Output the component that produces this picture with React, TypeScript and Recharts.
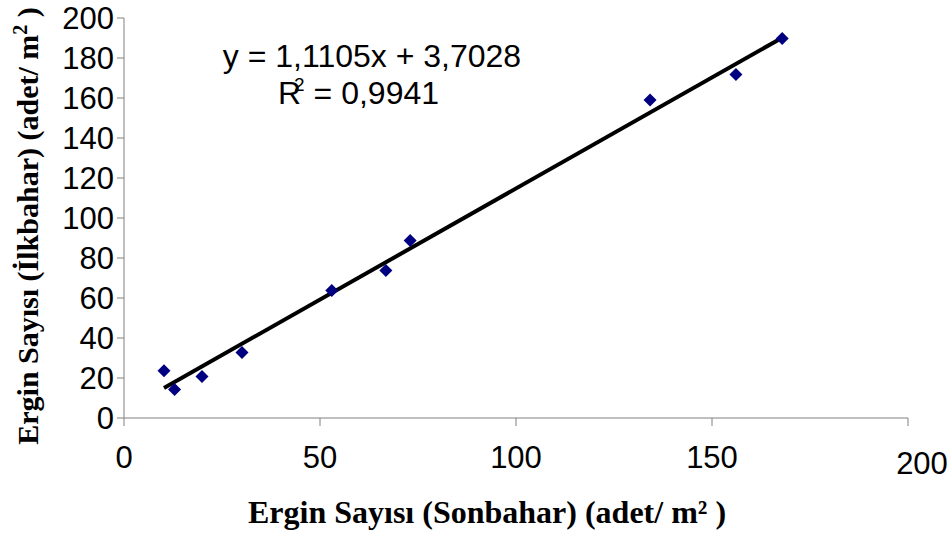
import { ScatterChart, Scatter, XAxis, YAxis } from 'recharts';

// Ergin sayısı: sonbahar (x) vs ilkbahar (y), adet/m²
const sonbahar = [10.2, 12.9, 19.9, 30.1, 53.0, 66.8, 73.0, 134.2, 156.1, 167.9];
const ilkbahar = [23.6, 14.3, 20.7, 32.8, 63.7, 73.7, 88.7, 159.0, 171.8, 189.8];

const xTicks = [0, 50, 100, 150, 200];
const yTicks = [0, 20, 40, 60, 80, 100, 120, 140, 160, 180, 200];

// Excel trendline: y = 1,1105x + 3,7028
const slope = 1.1105;
const intercept = 3.7028;

const points = sonbahar.map((x, i) => ({ x, y: ilkbahar[i] }));
const xMin = Math.min(...sonbahar);
const xMax = Math.max(...sonbahar);
const trend = [
  { x: xMin, y: slope * xMin + intercept },
  { x: xMax, y: slope * xMax + intercept },
];

const tickFont = '"Liberation Sans", Arial, sans-serif';
const titleFont = '"Liberation Serif", "Times New Roman", serif';

const Diamond = (props: any) => {
  const { cx, cy } = props;
  const r = 6.5;
  return (
    <polygon
      points={`${cx},${cy - r} ${cx + r},${cy} ${cx},${cy + r} ${cx - r},${cy}`}
      fill="#000080"
    />
  );
};

const XTick = (props: any) => {
  const { x, y, payload } = props;
  const last = payload.value === 200;
  return (
    <text
      x={x + (last ? 14 : 0)}
      y={y + (last ? 6 : 0)}
      dy="0.71em"
      textAnchor="middle"
      fill="#000"
      fontSize={31}
      fontFamily={tickFont}
    >
      {payload.value}
    </text>
  );
};

export default function App() {
  return (
    <div style={{ position: 'relative', width: 950, height: 536, overflow: 'hidden' }}>
      <style>{'body{margin:0}'}</style>
      <ScatterChart
        width={950}
        height={536}
        margin={{ top: 18, right: 42, bottom: 0, left: 0 }}
      >
        <XAxis
          type="number"
          dataKey="x"
          domain={[0, 200]}
          ticks={xTicks}
          height={118}
          tickSize={8}
          tickMargin={20}
          stroke="#808080"
          tick={<XTick />}
          interval={0}
        />
        <YAxis
          type="number"
          dataKey="y"
          domain={[0, 200]}
          ticks={yTicks}
          width={124}
          tickSize={7}
          tickMargin={3}
          stroke="#808080"
          interval={0}
          tick={{ fill: '#000', fontSize: 31, fontFamily: tickFont }}
        />
        <Scatter
          data={trend}
          line={{ stroke: '#000', strokeWidth: 4 }}
          shape={() => null}
          isAnimationActive={false}
        />
        <Scatter data={points} shape={<Diamond />} isAnimationActive={false} />
      </ScatterChart>
      <svg
        width={950}
        height={536}
        style={{ position: 'absolute', left: 0, top: 0, pointerEvents: 'none' }}
      >
        <text
          x={372}
          y={56}
          dy="0.35em"
          textAnchor="middle"
          fontSize={32}
          fontFamily={tickFont}
          fill="#000"
        >
          y = 1,1105x + 3,7028
        </text>
        <text
          x={278}
          y={93}
          dy="0.35em"
          fontSize={32}
          fontFamily={tickFont}
          fill="#000"
        >
          R
          <tspan dx={-7} dy={-13} fontSize={19}>2</tspan>
          <tspan dy={13}> = 0,9941</tspan>
        </text>
        <text
          x={487}
          y={512}
          dy="0.35em"
          textAnchor="middle"
          fontSize={32}
          fontWeight="bold"
          fontFamily={titleFont}
          fill="#000"
        >
          Ergin Sayısı (Sonbahar) (adet/ m² )
        </text>
        <text
          transform="translate(27,226) rotate(-90)"
          dy="0.35em"
          textAnchor="middle"
          fontSize={30}
          fontWeight="bold"
          fontFamily={titleFont}
          fill="#000"
        >
          Ergin Sayısı (İlkbahar) (adet/ m
          <tspan dy={-11} fontSize={20}>2</tspan>
          <tspan dy={11}> )</tspan>
        </text>
      </svg>
    </div>
  );
}
